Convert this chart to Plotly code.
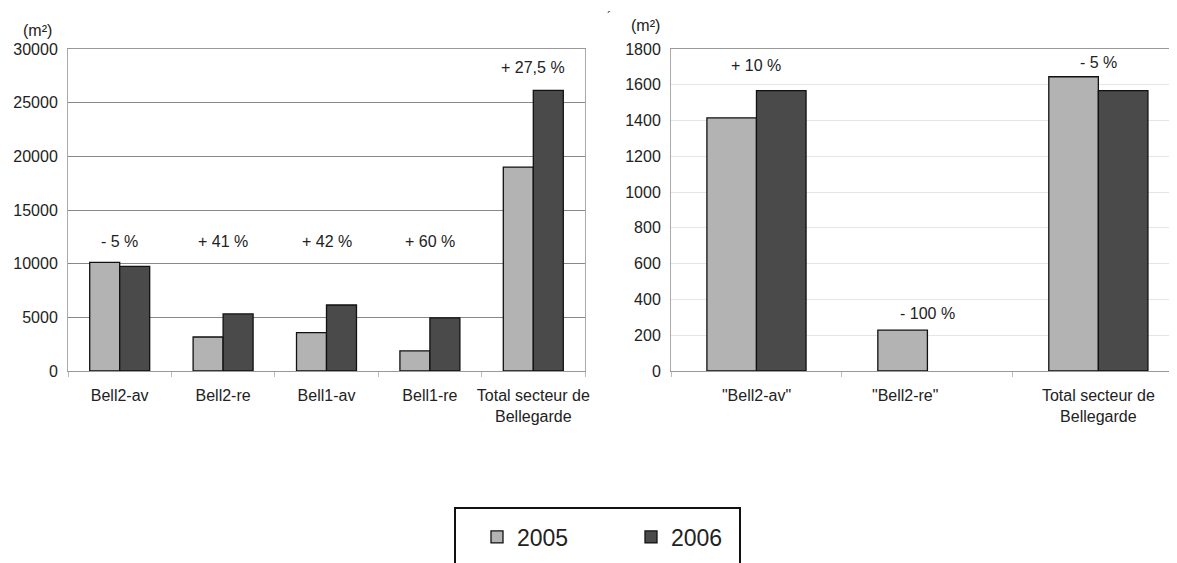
import plotly.graph_objects as go
from plotly.subplots import make_subplots

# left chart: surfaces per sector (m²)
left_cats = ["Bell2-av", "Bell2-re", "Bell1-av", "Bell1-re", "Total secteur de<br>Bellegarde"]
left_2005 = [10120, 3170, 3570, 1880, 19000]
left_2006 = [9750, 5320, 6150, 4950, 26150]
left_pct = ["- 5 %", "+ 41 %", "+ 42 %", "+ 60 %", "+ 27,5 %"]
left_pct_y = [12030, 12030, 12030, 12030, 28260]

# right chart
right_cats = ['"Bell2-av"', '"Bell2-re"', "Total secteur de<br>Bellegarde"]
right_ticktext = ['"Bell2-av"', '"Bell2-re"' + "\u00a0" * 10, "Total secteur de<br>Bellegarde"]
right_2005 = [1415, 228, 1645]
right_2006 = [1567, None, 1567]
right_pct = ["+ 10 %", "- 100 %", "- 5 %"]
right_pct_y = [1705, 323, 1722]

c2005 = "#b3b3b3"
c2006 = "#4a4a4a"
font = "Liberation Sans, Arial, sans-serif"
fs = 16

OFF = 8  # page body margin
W, H = 1177 - OFF, 563 - OFF
ml, mr, mt, mb = 60, 0, 41, 192
pw, ph = W - ml - mr, H - mt - mb


def px_x(x):
    # page pixel -> paper coordinate
    return (x - OFF - ml) / pw


def px_y(y):
    return (H - mb - (y - OFF)) / ph


fig = make_subplots(rows=1, cols=2)

line = dict(color="#111", width=1.3)
fig.add_trace(go.Bar(x=left_cats, y=left_2005, name="2005", marker_color=c2005,
                     marker_line=line, legendgroup="a"), 1, 1)
fig.add_trace(go.Bar(x=left_cats, y=left_2006, name="2006", marker_color=c2006,
                     marker_line=line, legendgroup="b"), 1, 1)
fig.add_trace(go.Bar(x=right_cats, y=right_2005, name="2005", marker_color=c2005,
                     marker_line=line, legendgroup="a", showlegend=False), 1, 2)
fig.add_trace(go.Bar(x=right_cats, y=right_2006, name="2006", marker_color=c2006,
                     marker_line=line, legendgroup="b", showlegend=False), 1, 2)

for c, t, y in zip(left_cats, left_pct, left_pct_y):
    fig.add_annotation(x=c, y=y, xref="x", yref="y", text=t, showarrow=False,
                       font=dict(size=fs, color="#222"))
for c, t, y in zip(right_cats, right_pct, right_pct_y):
    fig.add_annotation(x=c, y=y, xref="x2", yref="y2", text=t, showarrow=False,
                       font=dict(size=fs, color="#222"))

# unit labels
for x, y, t, s in [(37, 30, "(m²)", fs), (645, 25, "(m²)", fs), (609, 17, "´", 12)]:
    fig.add_annotation(x=px_x(x), y=px_y(y), xref="paper", yref="paper", text=t,
                       xanchor="center", yanchor="middle", showarrow=False,
                       font=dict(size=s, color="#222"))

# legend frame
fig.add_shape(type="rect", xref="paper", yref="paper",
              x0=px_x(455), x1=px_x(740), y0=px_y(580), y1=px_y(508),
              line=dict(color="#111", width=2), fillcolor="rgba(0,0,0,0)")

fig.update_layout(
    width=W, height=H,
    margin=dict(l=ml, r=mr, t=mt, b=mb, autoexpand=False),
    paper_bgcolor="white", plot_bgcolor="white",
    font=dict(family=font, size=fs, color="#222"),
    barmode="group", bargap=0.42, bargroupgap=0,
    legend=dict(orientation="h", x=px_x(477), y=px_y(537),
                xanchor="left", yanchor="middle",
                borderwidth=0, bgcolor="rgba(0,0,0,0)",
                font=dict(size=23, color="#222"),
                entrywidth=109, entrywidthmode="pixels",
                traceorder="normal"),
)

fig.update_xaxes(domain=[0, px_x(585)], tickangle=0, row=1, col=1)
fig.update_xaxes(domain=[px_x(671), 1.0], range=[-0.5, 2.46],
                 tickvals=right_cats, ticktext=right_ticktext, tickangle=0, row=1, col=2)
fig.update_xaxes(type="category", tickson="boundaries", ticks="outside", ticklen=5,
                 tickcolor="#bbb", showline=True, linecolor="#999", mirror=True,
                 showgrid=False, automargin=False, ticklabelstandoff=10,
                 tickfont=dict(size=fs, color="#222"))

fig.update_yaxes(range=[0, 30000], tickvals=[0, 5000, 10000, 15000, 20000, 25000, 30000],
                 tickformat="d", showgrid=True, gridcolor="#888", gridwidth=1,
                 showline=True, linecolor="#aaa", mirror=True, row=1, col=1)
fig.update_yaxes(range=[0, 1800], dtick=200, tickformat="d", showgrid=True,
                 gridcolor="#e6e6e6", showline=True, linecolor="#aaa", mirror=True,
                 row=1, col=2)
fig.update_yaxes(tickfont=dict(size=fs, color="#222"), zeroline=False,
                 automargin=False, ticklabelstandoff=6)

fig.write_html("out.html")
